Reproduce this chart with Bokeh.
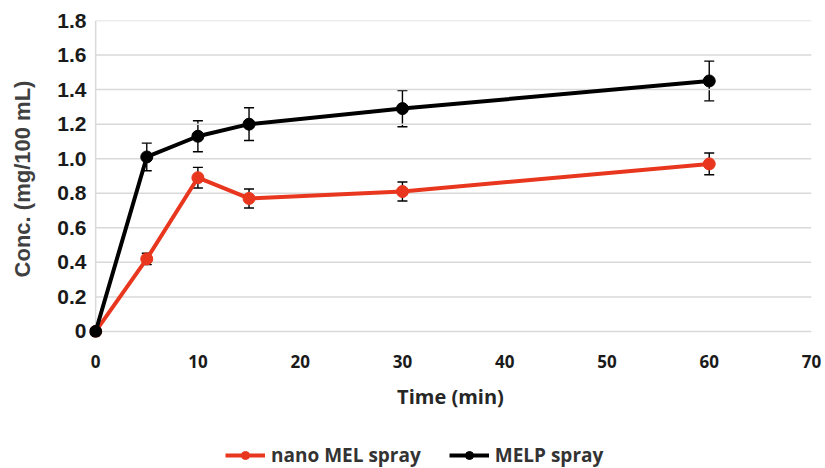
from bokeh.plotting import figure
from bokeh.layouts import column
from bokeh.models import (Range1d, FixedTicker, Whisker, TeeHead, ColumnDataSource,
                          Legend, LegendItem)
from bokeh.embed import file_html
from bokeh.resources import INLINE

time = [0, 5, 10, 15, 30, 60]
nano_mel = [0.0, 0.42, 0.89, 0.77, 0.81, 0.97]
nano_mel_err = [0.0, 0.033, 0.06, 0.055, 0.055, 0.063]
melp = [0.0, 1.01, 1.13, 1.20, 1.29, 1.45]
melp_err = [0.0, 0.08, 0.09, 0.095, 0.105, 0.115]
x_ticks = [0, 10, 20, 30, 40, 50, 60, 70]
y_ticks = [0, 0.2, 0.4, 0.6, 0.8, 1.0, 1.2, 1.4, 1.6, 1.8]
y_labels = ["0", "0.2", "0.4", "0.6", "0.8", "1.0", "1.2", "1.4", "1.6", "1.8"]
series_names = ["nano MEL spray", "MELP spray"]

RED = "#E8371E"
BLACK = "#000000"
GRID = "#d9d9d9"

p = figure(width=825, height=428, output_backend="svg", toolbar_location=None,
           x_range=Range1d(-0.6, 70), y_range=Range1d(-0.035, 1.8))
p.min_border_left = 89
p.min_border_right = 14
p.min_border_top = 20
p.min_border_bottom = 91
p.outline_line_color = None
p.background_fill_color = "white"
p.border_fill_color = "white"

p.xaxis.ticker = FixedTicker(ticks=x_ticks)
p.yaxis.ticker = FixedTicker(ticks=y_ticks)
p.yaxis.major_label_overrides = {t: l for t, l in zip(y_ticks, y_labels)}

for ax in (p.xaxis[0], p.yaxis[0]):
    ax.major_tick_line_color = None
    ax.minor_tick_line_color = None
    ax.axis_line_color = None
    ax.major_label_text_font_style = "bold"
    ax.axis_label_text_font_style = "bold"

p.yaxis.major_label_text_font = "Liberation Sans"
p.yaxis.major_label_text_font_size = "21px"
p.yaxis.major_label_text_color = "#1a1a1a"
p.yaxis.major_label_standoff = -3
p.yaxis.axis_label = "Conc. (mg/100 mL)"
p.yaxis.axis_label_text_font = "Liberation Sans"
p.yaxis.axis_label_text_font_size = "22px"
p.yaxis.axis_label_text_color = "#404040"
p.yaxis.axis_label_standoff = 19

p.xaxis.major_label_text_font = "Open Sans"
p.xaxis.major_label_text_font_size = "17px"
p.xaxis.major_label_text_color = "#1a1a1a"
p.xaxis.major_label_standoff = 11
p.xaxis.axis_label = "Time (min)"
p.xaxis.axis_label_text_font = "Open Sans"
p.xaxis.axis_label_text_font_size = "20px"
p.xaxis.axis_label_text_color = "#262626"
p.xaxis.axis_label_standoff = 12

p.xgrid.grid_line_color = None
p.ygrid.grid_line_color = None

# gridlines spanning exactly 0..70 and the left border at x = 0
x_lo, x_hi = x_ticks[0], x_ticks[-1]
p.segment(x0=[x_lo] * len(y_ticks), x1=[x_hi] * len(y_ticks), y0=y_ticks, y1=y_ticks,
          line_color=GRID, line_width=1.5)
p.segment(x0=[x_lo], x1=[x_lo], y0=[y_ticks[0]], y1=[y_ticks[-1]],
          line_color=GRID, line_width=1.5)

src_n = ColumnDataSource(dict(x=time, y=nano_mel,
                              lo=[v - e for v, e in zip(nano_mel, nano_mel_err)],
                              hi=[v + e for v, e in zip(nano_mel, nano_mel_err)]))
src_m = ColumnDataSource(dict(x=time, y=melp,
                              lo=[v - e for v, e in zip(melp, melp_err)],
                              hi=[v + e for v, e in zip(melp, melp_err)]))

p.line("x", "y", source=src_n, line_color=RED, line_width=4)
p.scatter("x", "y", source=src_n, size=12, fill_color=RED, line_color=RED)
p.line("x", "y", source=src_m, line_color=BLACK, line_width=4)
p.scatter("x", "y", source=src_m, size=12, fill_color=BLACK, line_color=BLACK)

for src in (src_n, src_m):
    w = Whisker(source=src, base="x", lower="lo", upper="hi", line_color="black", line_width=1.4,
                upper_head=TeeHead(size=10, line_color="black", line_width=1.4),
                lower_head=TeeHead(size=10, line_color="black", line_width=1.4))
    p.add_layout(w)

# legend strip below the chart (its renderers draw the same data, kept out of view)
lg = figure(width=825, height=40, output_backend="svg", toolbar_location=None,
            x_range=Range1d(1000, 1001), y_range=Range1d(1000, 1001),
            x_axis_location=None, y_axis_location=None)
lg.min_border_left = 89
lg.min_border_right = 14
lg.min_border_top = 0
lg.min_border_bottom = 0
lg.outline_line_color = None
lg.grid.grid_line_color = None
lg.border_fill_color = "white"

items = []
for name, col, src in zip(series_names, [RED, BLACK], [src_n, src_m]):
    l = lg.line("x", "y", source=src, line_color=col, line_width=4)
    s = lg.scatter("x", "y", source=src, size=10, fill_color=col, line_color=col)
    items.append(LegendItem(label=name, renderers=[l, s]))

legend = Legend(items=items, orientation="horizontal", location=(136, 0),
                label_text_font="Open Sans", label_text_font_style="bold",
                label_text_font_size="19px", label_text_color="#333333",
                glyph_width=40, glyph_height=20, spacing=28, padding=0, margin=0,
                label_standoff=6, border_line_color=None, background_fill_alpha=0)
lg.add_layout(legend, "center")

open("out.html", "w").write(file_html(column(p, lg), INLINE))
